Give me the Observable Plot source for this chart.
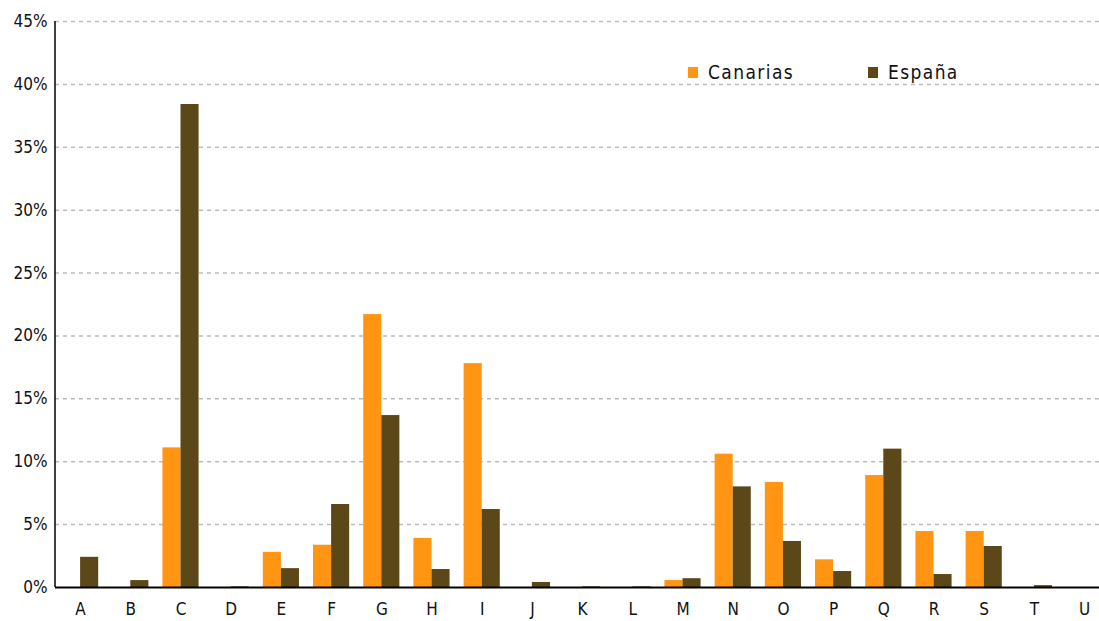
<!DOCTYPE html>
<html>
<head>
<meta charset="utf-8">
<script src="https://cdn.jsdelivr.net/npm/d3@7"></script>
<script src="https://cdn.jsdelivr.net/npm/@observablehq/plot@0.6"></script>
<style>
  html, body { margin: 0; padding: 0; background: #fff; }
  #wrap { position: relative; width: 1099px; height: 621px; overflow: hidden; }
  #legend { position: absolute; top: 61px; left: 688px; font-family: "DejaVu Sans Condensed", "DejaVu Sans", sans-serif; font-size: 19px; letter-spacing: 1.4px; color: #111; }
  .item { position: absolute; white-space: nowrap; display: flex; align-items: center; }
  .sw { display: inline-block; width: 10px; height: 11px; margin-right: 10px; }
</style>
</head>
<body>
<div id="wrap">
  <div id="chart"></div>
  <div id="legend"></div>
</div>
<script>
const categories = ["A","B","C","D","E","F","G","H","I","J","K","L","M","N","O","P","Q","R","S","T","U"];
const canarias = [0, 0, 11.1, 0, 2.8, 3.36, 21.7, 3.9, 17.8, 0, 0, 0, 0.55, 10.6, 8.35, 2.2, 8.9, 4.45, 4.45, 0, 0];
const espana   = [2.4, 0.55, 38.4, 0.05, 1.5, 6.6, 13.67, 1.43, 6.2, 0.4, 0.05, 0.05, 0.7, 8.0, 3.66, 1.27, 11.0, 1.03, 3.26, 0.15, 0];
const seriesNames = ["Canarias", "España"];
const seriesColors = ["#FF9512", "#5C4718"];
const yTicks = [0, 5, 10, 15, 20, 25, 30, 35, 40, 45];

const rowsC = categories.map((c, i) => ({cat: c, value: canarias[i]}));
const rowsE = categories.map((c, i) => ({cat: c, value: espana[i]}));

const W = 1099, H = 621;
const mL = 55, mT = 21, mB = 34;
const step = 50.2;
const pad = 0.28;
const bw = step * (1 - pad);

const chart = Plot.plot({
  width: W,
  height: H,
  marginLeft: mL,
  marginRight: 0,
  marginTop: mT,
  marginBottom: mB,
  style: {fontFamily: "'DejaVu Sans Condensed', 'DejaVu Sans', sans-serif", fontSize: "17px", color: "#111", background: "#fff"},
  x: {domain: categories, range: [mL, mL + step * categories.length], paddingInner: pad, paddingOuter: pad / 2, round: false, label: null, tickSize: 0, tickPadding: 15},
  y: {domain: [0, 45], ticks: yTicks, tickFormat: d => d + "%", label: null, tickSize: 0, tickPadding: 8},
  marks: [
    Plot.ruleY(yTicks.filter(d => d > 0), {stroke: "#bbb", strokeWidth: 1.5, strokeDasharray: "4,4"}),
    Plot.barY(rowsC, {x: "cat", y: "value", fill: seriesColors[0], insetLeft: 0, insetRight: bw / 2}),
    Plot.barY(rowsE, {x: "cat", y: "value", fill: seriesColors[1], insetLeft: bw / 2, insetRight: 0}),
    Plot.ruleY([0], {stroke: "#000", strokeWidth: 2})
  ]
});
document.getElementById("chart").appendChild(chart);

// left axis line
const svg = d3.select(chart);
svg.append("line").attr("x1", mL).attr("x2", mL).attr("y1", mT).attr("y2", H - mB).attr("stroke", "#000").attr("stroke-width", 1.5);

const legend = document.getElementById("legend");
const offsets = [0, 180];
seriesNames.forEach((n, i) => {
  const d = document.createElement("div");
  d.className = "item";
  d.style.left = offsets[i] + "px";
  d.innerHTML = `<span class="sw" style="background:${seriesColors[i]}"></span>${n}`;
  legend.appendChild(d);
});
</script>
</body>
</html>
